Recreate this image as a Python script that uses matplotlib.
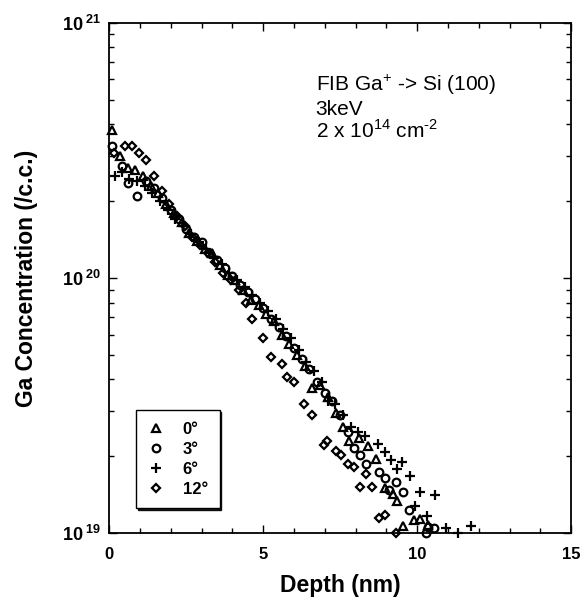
import matplotlib
matplotlib.use("Agg")
import matplotlib.pyplot as plt
import numpy as np
from matplotlib.ticker import FixedLocator, LogLocator, NullFormatter

plt.rcParams["font.family"] = ["Liberation Sans", "DejaVu Sans"]
plt.rcParams["mathtext.fontset"] = "custom"
plt.rcParams["mathtext.rm"] = "Liberation Sans"
plt.rcParams["mathtext.bf"] = "Liberation Sans:bold"

UNIT = 1e19  # concentrations below are in units of 1e19 /c.c.

# 0 deg (triangles)
depth_0 = [0.1, 0.35, 0.6, 0.85, 1.1, 1.35, 1.6, 1.85, 2.1, 2.35, 2.6, 2.85, 3.1, 3.35,
           3.6, 3.85, 4.1, 4.35, 4.6, 4.85, 5.1, 5.35, 5.6, 5.85, 6.1, 6.35, 6.6, 6.85,
           7.1, 7.35, 7.6, 7.8, 8.1, 8.4, 8.65, 8.95, 9.2, 9.35, 9.55, 9.9, 10.1, 10.35]
conc_0 = [38, 30, 27, 26.5, 25, 23, 21.5, 19.5, 18.0, 16.5, 15.0, 14.0, 13.0, 12.5,
          11.2, 10.3, 9.8, 9.0, 8.2, 7.8, 7.2, 6.8, 6.0, 5.5, 5.0, 4.5, 3.7, 3.8,
          3.4, 2.95, 2.6, 2.3, 2.35, 2.2, 1.95, 1.5, 1.42, 1.34, 1.07, 1.13, 1.14, 1.08]

# 3 deg (circles)
depth_3 = [0.1, 0.4, 0.6, 0.9, 1.2, 1.45, 1.7, 2.0, 2.25, 2.5, 2.75, 3.0, 3.25, 3.5,
           3.75, 4.0, 4.25, 4.5, 4.75, 5.0, 5.25, 5.5, 5.75, 6.0, 6.25, 6.5, 6.75, 7.0,
           7.25, 7.5, 7.75, 7.95, 8.15, 8.35, 8.75, 8.95, 9.1, 9.3, 9.55, 9.75, 10.3,
           10.35, 10.55]
conc_3 = [33, 27.5, 23.5, 21, 24, 22.5, 20.5, 18.5, 17, 15.5, 14.5, 13.8, 12.5, 11.8,
          10.9, 10.2, 9.4, 8.8, 8.3, 7.6, 6.9, 6.4, 5.9, 5.3, 4.8, 4.4, 3.9, 3.55,
          3.3, 2.9, 2.5, 2.15, 2.03, 1.87, 1.74, 1.65, 1.48, 1.58, 1.45, 1.23, 1.0,
          1.06, 1.05]

# 6 deg (plus)
depth_6 = [0.2, 0.4, 0.65, 0.9, 1.15, 1.4, 1.65, 1.9, 2.15, 2.4, 2.65, 2.9, 3.15, 3.4,
           3.65, 3.9, 4.15, 4.4, 4.65, 4.9, 5.15, 5.4, 5.65, 5.9, 6.15, 6.4, 6.65, 6.9,
           7.12, 7.33, 7.6, 7.85, 8.09, 8.3, 8.74, 8.96, 9.15, 9.33, 9.5, 9.77, 9.94,
           10.1, 10.32, 10.58, 10.94, 11.33, 11.75]
conc_6 = [25, 26, 24.5, 24, 23, 21.5, 20, 18.5, 17, 16, 14.8, 13.8, 13, 12,
          11.3, 10.5, 9.8, 9.2, 8.6, 8.0, 7.4, 6.9, 6.3, 5.8, 5.2, 4.7, 4.3, 3.9,
          3.3, 3.2, 2.9, 2.6, 2.5, 2.4, 2.24, 2.08, 1.94, 1.79, 1.9, 1.68, 1.28,
          1.45, 1.17, 1.41, 1.05, 1.0, 1.07]

# 12 deg (diamonds)
depth_12 = [0.15, 0.5, 0.75, 0.97, 1.2, 1.46, 1.7, 1.95, 2.2, 2.45, 2.7, 2.95, 3.2, 3.45,
            3.7, 3.95, 4.2, 4.45, 4.63, 4.98, 5.24, 5.6, 5.76, 6.0, 6.31, 6.57, 6.96,
            7.06, 7.35, 7.54, 7.77, 7.96, 8.15, 8.35, 8.54, 8.77, 8.96, 9.32]
conc_12 = [31, 33, 33, 31, 29, 25, 22, 19.5, 17.5, 16, 14.5, 13.5, 12.5, 11.5,
           10.5, 9.8, 9.0, 8.0, 6.9, 5.8, 4.9, 4.6, 4.1, 3.9, 3.2, 2.9, 2.22,
           2.3, 2.1, 2.03, 1.86, 1.82, 1.51, 1.70, 1.52, 1.15, 1.18, 1.0]

series = [
    (depth_0, conc_0, "^", "0°"),
    (depth_3, conc_3, "o", "3°"),
    (depth_6, conc_6, "+", "6°"),
    (depth_12, conc_12, "D", "12°"),
]
marker_sizes = {"^": 5.5, "o": 5.5, "+": 7.0, "D": 4.3}

fig = plt.figure(figsize=(5.81, 5.99), dpi=100)
ax = fig.add_axes([0.188, 0.110, 0.795, 0.852])

for xs, ys, mk, lab in series:
    ax.plot(xs, np.array(ys) * UNIT, linestyle="none", marker=mk,
            ms=marker_sizes[mk], mfc="none", mec="k", mew=1.6, label=lab,
            clip_on=False)

ax.set_yscale("log")
ax.set_xlim(0, 15)
ax.set_ylim(1e19, 1e21)

ax.xaxis.set_major_locator(FixedLocator([0, 5, 10, 15]))
ax.xaxis.set_minor_locator(FixedLocator(np.arange(0, 15.1, 1)))
ax.set_xticklabels(["0", "5", "10", "15"], fontsize=12, fontweight="bold")
ax.yaxis.set_major_locator(FixedLocator([1e19, 1e20, 1e21]))
ax.yaxis.set_minor_locator(LogLocator(base=10, subs=np.arange(2, 10)))
ax.yaxis.set_minor_formatter(NullFormatter())
ax.set_yticklabels([r"$\mathbf{10}^{\;\mathbf{19}}$", r"$\mathbf{10}^{\;\mathbf{20}}$",
                    r"$\mathbf{10}^{\;\mathbf{21}}$"], fontsize=13)

ax.tick_params(which="both", direction="in", top=True, right=True, width=1.0)
ax.tick_params(which="major", length=6)
ax.tick_params(which="minor", length=3.5)
ax.tick_params(axis="y", pad=6)
ax.tick_params(axis="x", pad=10)
for sp in ax.spines.values():
    sp.set_linewidth(1.3)

ax.set_xlabel("Depth (nm)", fontsize=16.5, fontweight="bold", labelpad=9)
ax.set_ylabel("Ga Concentration (/c.c.)", fontsize=16.5, fontweight="bold", labelpad=17)

ax.text(0.447, 0.866, r"FIB Ga$^{+}$ -> Si (100)", transform=ax.transAxes,
        fontsize=15, va="baseline")
ax.text(0.447, 0.819, "3keV", transform=ax.transAxes, fontsize=15, va="baseline")
ax.text(0.447, 0.774, r"2 x 10$^{14}$ cm$^{\mathrm{\text{-}2}}$", transform=ax.transAxes,
        fontsize=15, va="baseline")

leg = ax.legend(loc="lower left", bbox_to_anchor=(0.04, 0.032), fancybox=False,
                frameon=True, edgecolor="k", handlelength=1.0,
                handletextpad=1.1, labelspacing=0.3, borderpad=0.7,
                prop={"weight": "bold", "size": 12},
                shadow={"color": "k", "alpha": 0.9, "ox": 1.2, "oy": -1.2})
leg.get_frame().set_linewidth(1.0)

fig.savefig("out.png", dpi=100)
